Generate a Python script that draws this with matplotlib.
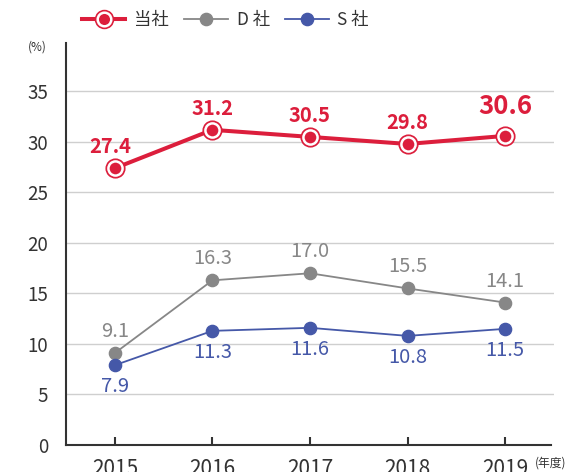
import matplotlib
matplotlib.use("Agg")
import matplotlib.pyplot as plt
from matplotlib.lines import Line2D
from matplotlib.legend_handler import HandlerTuple

plt.rcParams['font.family'] = ['Noto Sans CJK JP', 'DejaVu Sans']

years = ["2015", "2016", "2017", "2018", "2019"]
ours = [27.4, 31.2, 30.5, 29.8, 30.6]
d_co = [9.1, 16.3, 17.0, 15.5, 14.1]
s_co = [7.9, 11.3, 11.6, 10.8, 11.5]
yticks = [0, 5, 10, 15, 20, 25, 30, 35]

RED = "#dc1e3c"
GRAY = "#878787"
BLUE = "#4558a8"

fig = plt.figure(figsize=(5.7, 4.72), dpi=100)
ax = fig.add_axes([0.1158, 0.0572, 0.8562, 0.8518])
x = list(range(len(years)))

ax.set_xlim(-0.5, 4.5)
ax.set_ylim(0, 39.8)

for v in yticks[1:]:
    ax.axhline(v, color="#cfcfcf", lw=1.0, zorder=0)

# D社
ax.plot(x, d_co, color=GRAY, lw=1.3, marker='o', ms=8.8, mfc=GRAY, mec=GRAY, zorder=3)
# S社
ax.plot(x, s_co, color=BLUE, lw=1.3, marker='o', ms=8.8, mfc=BLUE, mec=BLUE, zorder=3)
# 当社
ax.plot(x, ours, color=RED, lw=2.9, zorder=4)
ax.plot(x, ours, ls='none', marker='o', ms=13.5, mfc=RED, mec=RED, zorder=5)
ax.plot(x, ours, ls='none', marker='o', ms=10.2, mfc=RED, mec='white', mew=1.8, zorder=6)

for i, v in enumerate(ours):
    big = (i == len(ours) - 1)
    ax.annotate(f"{v:.1f}", (x[i], v), xytext=(-3 if i == 0 else 0, 21 if big else 15.5),
                textcoords='offset points', ha='center', va='center',
                color=RED, fontsize=18.5 if big else 14.5, fontweight='bold', zorder=7)
for i, v in enumerate(d_co):
    ax.annotate(f"{v:.1f}", (x[i], v), xytext=(0, 15.5),
                textcoords='offset points', ha='center', va='center',
                color=GRAY, fontsize=14.5, zorder=7)
for i, v in enumerate(s_co):
    ax.annotate(f"{v:.1f}", (x[i], v), xytext=(0, -15.5),
                textcoords='offset points', ha='center', va='center',
                color=BLUE, fontsize=14.5, zorder=7)

ax.set_xticks(x)
ax.set_xticklabels(years)
ax.set_yticks(yticks)
ax.tick_params(axis='x', direction='in', length=6, width=1.5, color='#333333',
               labelsize=15, labelcolor='#333333', pad=9)
ax.tick_params(axis='y', length=0, labelsize=13.5, labelcolor='#333333', pad=13)

for s in ['top', 'right']:
    ax.spines[s].set_visible(False)
for s in ['left', 'bottom']:
    ax.spines[s].set_color('#333333')
    ax.spines[s].set_linewidth(1.5)
ax.spines['bottom'].set_bounds(-0.5, 4.47)

fig.text(47 / 570, 1 - 47 / 472, "(%)", ha='right', va='center', fontsize=8.5, color='#333333')
fig.text(535 / 570, 1 - 463 / 472, "(年度)", ha='left', va='center', fontsize=8.5, color='#333333')

red_h = (Line2D([], [], color=RED, lw=2.9, marker='o', ms=13, mfc=RED, mec=RED),
         Line2D([], [], ls='none', marker='o', ms=9.8, mfc=RED, mec='white', mew=1.8))
handles = [
    red_h,
    Line2D([], [], color=GRAY, lw=1.3, marker='o', ms=8.8, mfc=GRAY, mec=GRAY),
    Line2D([], [], color=BLUE, lw=1.3, marker='o', ms=8.8, mfc=BLUE, mec=BLUE),
]
leg = fig.legend(handles, ["当社", "D 社", "S 社"], loc='center left',
                 bbox_to_anchor=(82 / 570, 1 - 20 / 472), ncol=3, frameon=False,
                 fontsize=12.5, handlelength=2.5, handletextpad=0.5, columnspacing=0.9,
                 borderaxespad=0, borderpad=0,
                 handler_map={tuple: HandlerTuple(ndivide=1, pad=0)})
for t in leg.get_texts():
    t.set_color('#333333')

fig.savefig("out.png", dpi=100)
